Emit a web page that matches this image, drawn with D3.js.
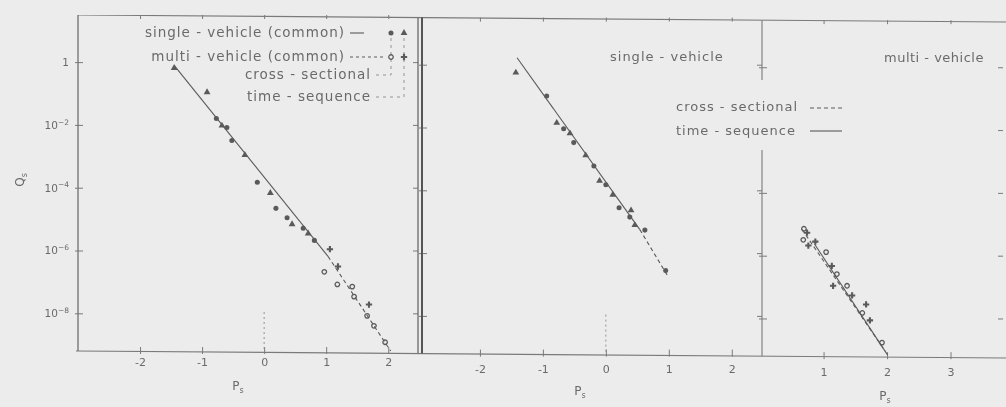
<!DOCTYPE html>
<html>
<head>
<meta charset="utf-8">
<script src="https://cdn.jsdelivr.net/npm/d3@7"></script>
<style>
  body { margin: 0; background: #ececec; }
  svg { display: block; font-family: "DejaVu Sans", sans-serif; }
</style>
</head>
<body>
<svg id="chart"></svg>
<script>
// axis ticks
const qTicks = [1, 1e-2, 1e-4, 1e-6, 1e-8];
const qTickExp = ["", "\u22122", "\u22124", "\u22126", "\u22128"];
const pTicksWide = [-2, -1, 0, 1, 2];
const pTicksMulti = [1, 2, 3];

// panel 1 (common) : [P_s, Q_s]
const commonSingleCross = [[-0.77, 0.016], [-0.60, 0.0083], [-0.52, 0.0032], [-0.11, 1.5e-4],
  [0.19, 2.2e-5], [0.37, 1.1e-5], [0.63, 5.1e-6], [0.81, 2.1e-6]];
const commonSingleTime = [[-1.45, 0.65], [-0.92, 0.11], [-0.68, 0.0095], [-0.31, 0.0011],
  [0.10, 6.8e-5], [0.45, 6.9e-6], [0.71, 3.5e-6]];
const commonMultiCross = [[0.97, 2.1e-7], [1.18, 8.3e-8], [1.42, 7.1e-8], [1.45, 3.4e-8],
  [1.66, 8.3e-9], [1.77, 4.0e-9], [1.95, 1.2e-9]];
const commonMultiTime = [[1.06, 1.1e-6], [1.19, 3.1e-7], [1.69, 1.9e-8]];
const commonSingleFit = [[-1.45, 0.79], [1.03, 6.5e-7]];
const commonMultiFit = [[1.03, 6.5e-7], [2.04, 6.3e-10]];

// panel 2 (single-vehicle)
const singleCross = [[-0.94, 0.10], [-0.67, 0.0091], [-0.51, 0.0033], [-0.19, 5.9e-4],
  [0.00, 1.5e-4], [0.21, 2.8e-5], [0.38, 1.4e-5], [0.62, 5.4e-6], [0.95, 2.8e-7]];
const singleTime = [[-1.43, 0.56], [-0.78, 0.014], [-0.57, 0.0065], [-0.32, 0.0013],
  [-0.10, 2.0e-4], [0.11, 7.2e-5], [0.40, 2.3e-5], [0.46, 7.8e-6]];
const singleTimeFit = [[-1.41, 1.66], [0.54, 5.6e-6]];
const singleCrossFit = [[0.54, 5.6e-6], [0.98, 1.9e-7]];

// panel 3 (multi-vehicle)
const multiCross = [[0.69, 7.2e-6], [0.68, 3.2e-6], [1.04, 1.3e-6], [1.21, 2.6e-7],
  [1.37, 1.1e-7], [1.61, 1.5e-8], [1.92, 1.7e-9]];
const multiTime = [[0.74, 5.4e-6], [0.76, 2.1e-6], [0.87, 2.8e-6], [1.13, 4.7e-7],
  [1.15, 1.1e-7], [1.45, 5.4e-8], [1.67, 2.8e-8], [1.73, 8.7e-9]];
const multiCrossFit = [[0.66, 6.9e-6], [1.97, 9.1e-10]];
const multiTimeFit = [[0.86, 2.3e-6], [2.01, 6.8e-10]];

const W = 1006, H = 407;
const bg = '#ececec';
const ink = '#5a5a5a', textInk = '#6a6a6a', frame = '#7a7a7a';

const svg = d3.select('#chart').attr('width', W).attr('height', H);
svg.append('defs').append('filter').attr('id', 'soft')
  .attr('x', 0).attr('y', 0).attr('width', 1).attr('height', 1)
  .append('feGaussianBlur').attr('stdDeviation', 0.45);
svg.append('rect').attr('width', W).attr('height', H).attr('fill', bg);
const root = svg.append('g').attr('filter', 'url(#soft)');

const qDomain = [Math.pow(10, -9.2), Math.pow(10, 1.5)];

const markers = {
  sc: { type: d3.symbolCircle, size: 20, fill: ink, stroke: 'none' },
  st: { type: d3.symbolTriangle, size: 20, fill: ink, stroke: 'none' },
  mc: { type: d3.symbolCircle, size: 16, fill: 'none', stroke: ink },
  mt: { type: d3.symbolCross, size: 22, fill: ink, stroke: 'none' }
};

// the scan is slightly rotated: top and bottom frame lines drift down to the right
const frameTop = x => 15 + (x - 78) * 7 / 928;
const frameBot = x => 351 + (x - 78) * 7 / 928;

function drawPanel(cfg) {
  const top = frameTop(cfg.left), bottom = frameBot(cfg.left);
  const x = d3.scaleLinear().domain(cfg.pDomain).range([cfg.left, cfg.right]);
  const y = d3.scaleLog().domain(qDomain).range([bottom, top]);
  const g = root.append('g');

  // bottom axis
  const bx = g.append('g')
    .attr('transform', 'translate(0,' + bottom + ')')
    .call(d3.axisBottom(x).tickValues(cfg.pTicks).tickSize(-4).tickPadding(cfg.labelPad)
      .tickFormat(d => d < 0 ? '-' + Math.abs(d) : d));
  bx.select('.domain').remove();
  bx.selectAll('.tick line').attr('stroke', frame).attr('y2', -4).attr('y1', 3);
  bx.selectAll('.tick text').attr('fill', textInk).attr('font-size', 11)
    .attr('font-family', '"DejaVu Sans", sans-serif');

  // top ticks
  const tx = g.append('g')
    .attr('transform', 'translate(0,' + top + ')')
    .call(d3.axisTop(x).tickValues(cfg.pTicks).tickSize(-4).tickFormat(''));
  tx.select('.domain').remove();
  tx.selectAll('.tick line').attr('stroke', frame);

  // left ticks
  const ly = g.append('g')
    .attr('transform', 'translate(' + cfg.left + ',0)')
    .call(d3.axisLeft(y).tickValues(qTicks).tickSize(-5).tickPadding(9).tickFormat(''));
  ly.select('.domain').remove();
  ly.selectAll('.tick line').attr('stroke', frame).attr('x1', -3);
  if (cfg.yLabels) {
    ly.selectAll('.tick text').each(function(d, i) {
      const t = d3.select(this).attr('fill', textInk).attr('font-size', 10.5)
        .attr('font-family', '"DejaVu Sans", sans-serif');
      if (qTickExp[i] === '') { t.text('1'); return; }
      t.append('tspan').text('10');
      t.append('tspan').attr('dy', '-0.55em').attr('font-size', 7.5).text(qTickExp[i]);
    });
  }

  // right ticks
  const ry = g.append('g')
    .attr('transform', 'translate(' + cfg.rightTickX + ',0)')
    .call(d3.axisRight(y).tickValues(qTicks).tickSize(-5).tickFormat(''));
  ry.select('.domain').remove();
  ry.selectAll('.tick line').attr('stroke', frame);

  // left frame edge
  g.append('line').attr('x1', cfg.left).attr('x2', cfg.left)
    .attr('y1', top).attr('y2', bottom).attr('stroke', cfg.leftInk).attr('stroke-width', cfg.leftWidth);

  // dotted reference at P = 0
  if (cfg.zeroRef) {
    g.append('line').attr('x1', x(0)).attr('x2', x(0))
      .attr('y1', bottom - 39).attr('y2', bottom)
      .attr('stroke', '#8a8a8a').attr('stroke-width', 0.9).attr('stroke-dasharray', '2,3');
  }

  // fitted lines
  const line = d3.line().x(d => x(d[0])).y(d => y(d[1]));
  cfg.fits.forEach(f => {
    g.append('path').datum(f.data).attr('d', line).attr('fill', 'none')
      .attr('stroke', ink).attr('stroke-width', 1.1)
      .attr('stroke-dasharray', f.dashed ? '4,3' : null);
  });

  // points
  cfg.points.forEach(s => {
    const m = markers[s.kind];
    g.append('g').selectAll('path').data(s.data).join('path')
      .attr('transform', d => 'translate(' + x(d[0]) + ',' + y(d[1]) + ')')
      .attr('d', d3.symbol().type(m.type).size(m.size))
      .attr('fill', m.fill).attr('stroke', m.stroke).attr('stroke-width', 1.3);
  });

  // x title
  const xt = g.append('text').attr('x', cfg.xTitle[0]).attr('y', cfg.xTitle[1])
    .attr('fill', textInk).attr('font-size', 12).attr('text-anchor', 'middle');
  xt.append('tspan').text('P');
  xt.append('tspan').attr('dy', '0.35em').attr('font-size', 8).text('s');

  return { x, y, g };
}

// continuous top and bottom frame lines
root.append('line').attr('x1', 78).attr('x2', W).attr('y1', frameTop(78)).attr('y2', frameTop(W))
  .attr('stroke', frame).attr('stroke-width', 1.1);
root.append('line').attr('x1', 76).attr('x2', W).attr('y1', frameBot(76)).attr('y2', frameBot(W))
  .attr('stroke', frame).attr('stroke-width', 1.2);

const p1 = drawPanel({
  left: 78, right: 418, rightTickX: 418,
  pDomain: [-3, 2.48], pTicks: pTicksWide, labelPad: 7, yLabels: true, zeroRef: true,
  leftInk: '#707070', leftWidth: 1.3, xTitle: [238, 390],
  fits: [{ data: commonSingleFit, dashed: false }, { data: commonMultiFit, dashed: true }],
  points: [{ kind: 'sc', data: commonSingleCross }, { kind: 'st', data: commonSingleTime },
           { kind: 'mc', data: commonMultiCross }, { kind: 'mt', data: commonMultiTime }]
});
root.append('line').attr('x1', 418).attr('x2', 418).attr('y1', frameTop(418)).attr('y2', frameBot(418))
  .attr('stroke', '#6a6a6a').attr('stroke-width', 1.3);

const p2 = drawPanel({
  left: 422, right: 762, rightTickX: 762,
  pDomain: [-2.92, 2.48], pTicks: pTicksWide, labelPad: 12, yLabels: false, zeroRef: true,
  leftInk: '#555', leftWidth: 2, xTitle: [580, 395],
  fits: [{ data: singleTimeFit, dashed: false }, { data: singleCrossFit, dashed: true }],
  points: [{ kind: 'sc', data: singleCross }, { kind: 'st', data: singleTime }]
});

const p3 = drawPanel({
  left: 762, right: 1014, rightTickX: 1003,
  pDomain: [0.03, 4], pTicks: pTicksMulti, labelPad: 12, yLabels: false, zeroRef: false,
  leftInk: '#7a7a7a', leftWidth: 1.1, xTitle: [885, 400],
  fits: [{ data: multiCrossFit, dashed: true }, { data: multiTimeFit, dashed: false }],
  points: [{ kind: 'mc', data: multiCross }, { kind: 'mt', data: multiTime }]
});
// gap in the divider where the legend crosses it
root.append('rect').attr('x', 757).attr('y', 80).attr('width', 10).attr('height', 70).attr('fill', bg);

// y title
const yt = root.append('text').attr('transform', 'translate(24,180) rotate(-90)')
  .attr('fill', textInk).attr('font-size', 12).attr('text-anchor', 'middle');
yt.append('tspan').text('Q');
yt.append('tspan').attr('dy', '0.35em').attr('font-size', 8).text('s');

// legend, panel 1
const legRows = ['single - vehicle (common)', 'multi - vehicle (common)', 'cross - sectional', 'time - sequence'];
const legY = [37, 61, 79, 101];
const legEnd = [345, 345, 371, 371];
const leg = root.append('g').attr('font-size', 13.5).attr('letter-spacing', 1)
  .attr('fill', textInk).attr('text-anchor', 'end');
legRows.forEach((t, i) => leg.append('text').attr('x', legEnd[i]).attr('y', legY[i]).text(t));
leg.append('line').attr('x1', 350).attr('x2', 364).attr('y1', 33).attr('y2', 33)
  .attr('stroke', ink).attr('stroke-width', 1.1);
leg.append('line').attr('x1', 350).attr('x2', 383).attr('y1', 57).attr('y2', 57)
  .attr('stroke', ink).attr('stroke-width', 1.1).attr('stroke-dasharray', '3,3');
// brackets to marker columns
leg.append('path').attr('d', 'M376,75H391V38').attr('fill', 'none')
  .attr('stroke', '#8a8a8a').attr('stroke-width', 0.9).attr('stroke-dasharray', '3,4');
leg.append('path').attr('d', 'M376,97H404V38').attr('fill', 'none')
  .attr('stroke', '#8a8a8a').attr('stroke-width', 0.9).attr('stroke-dasharray', '3,4');
const legMarks = [['sc', 391, 33], ['st', 404, 33], ['mc', 391, 57], ['mt', 404, 57]];
legMarks.forEach(([k, mx, my]) => {
  const m = markers[k];
  leg.append('path').attr('transform', 'translate(' + mx + ',' + my + ')')
    .attr('d', d3.symbol().type(m.type).size(m.size))
    .attr('fill', m.fill).attr('stroke', m.stroke).attr('stroke-width', 1.3);
});

// panel titles and legend, panels 2 and 3
const txt = root.append('g').attr('font-size', 13).attr('letter-spacing', 1).attr('fill', textInk);
txt.append('text').attr('x', 610).attr('y', 61).text('single - vehicle');
txt.append('text').attr('x', 884).attr('y', 62).attr('letter-spacing', 0.5).text('multi - vehicle');
txt.append('text').attr('x', 676).attr('y', 111).text('cross - sectional');
txt.append('text').attr('x', 676).attr('y', 135).text('time - sequence');
root.append('line').attr('x1', 810).attr('x2', 842).attr('y1', 108).attr('y2', 108)
  .attr('stroke', ink).attr('stroke-width', 1.1).attr('stroke-dasharray', '4,3');
root.append('line').attr('x1', 810).attr('x2', 842).attr('y1', 131).attr('y2', 131)
  .attr('stroke', ink).attr('stroke-width', 1.1);
</script>
</body>
</html>
